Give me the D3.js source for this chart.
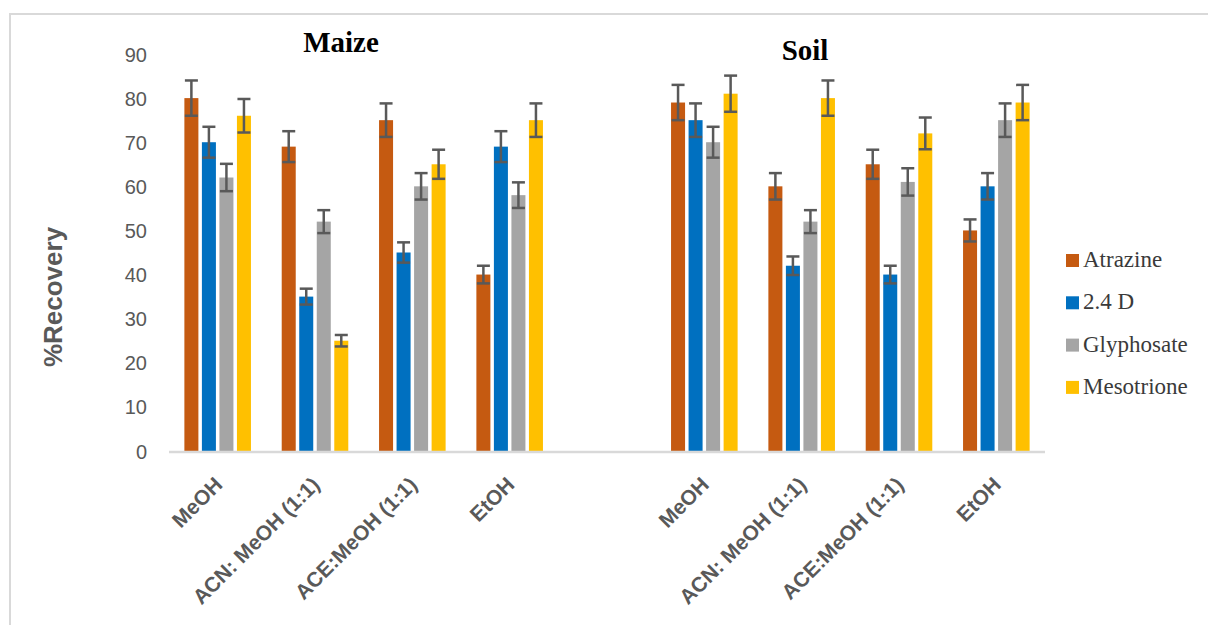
<!DOCTYPE html>
<html>
<head>
<meta charset="utf-8">
<script src="https://cdn.jsdelivr.net/npm/d3@7.9.0/dist/d3.min.js"></script>
<style>
  body { margin: 0; background: #fff; }
  svg { display: block; }
</style>
</head>
<body>
<svg id="chart" width="1208" height="625"></svg>
<script>
// chart data
const categories = ['MeOH', 'ACN: MeOH (1:1)', 'ACE:MeOH (1:1)', 'EtOH', '',
                    'MeOH', 'ACN: MeOH (1:1)', 'ACE:MeOH (1:1)', 'EtOH'];
const seriesNames = ['Atrazine', '2.4 D', 'Glyphosate', 'Mesotrione'];
const seriesColors = ['#C55A11', '#0070C0', '#A5A5A5', '#FFC000'];

const atrazine   = [80, 69, 75, 40, null, 79, 60, 65, 50];
const d24        = [70, 35, 45, 69, null, 75, 42, 40, 60];
const glyphosate = [62, 52, 60, 58, null, 70, 52, 61, 75];
const mesotrione = [76, 25, 65, 75, null, 81, 80, 72, 79];

const atrazineErr   = [4.0, 3.5, 3.8, 2.0, null, 4.0, 3.0, 3.3, 2.5];
const d24Err        = [3.5, 1.8, 2.3, 3.5, null, 3.8, 2.1, 2.0, 3.0];
const glyphosateErr = [3.1, 2.6, 3.0, 2.9, null, 3.5, 2.6, 3.1, 3.8];
const mesotrioneErr = [3.8, 1.3, 3.3, 3.8, null, 4.1, 4.0, 3.6, 4.0];

const yTicks = [0, 10, 20, 30, 40, 50, 60, 70, 80, 90];
const groupTitles = ['Maize', 'Soil'];

const values = [atrazine, d24, glyphosate, mesotrione];
const errors = [atrazineErr, d24Err, glyphosateErr, mesotrioneErr];

const svg = d3.select('#chart');

// outer frame (only top/left edges show in the picture)
svg.append('rect')
  .attr('x', 10).attr('y', 14)
  .attr('width', 1250).attr('height', 700)
  .attr('fill', 'none')
  .attr('stroke', '#D9D9D9').attr('stroke-width', 2);

const plot = { left: 169, right: 1045, top: 54, bottom: 451 };

const x0 = d3.scaleBand()
  .domain(d3.range(categories.length))
  .range([plot.left, plot.right])
  .padding(0);

const x1 = d3.scaleBand()
  .domain(seriesNames)
  .range([0, x0.bandwidth() * 0.684])
  .paddingInner(0.2)
  .paddingOuter(0);

const y = d3.scaleLinear().domain([0, 90]).range([plot.bottom, plot.top]);

// y tick labels
const yAxis = d3.axisLeft(y).tickValues(yTicks).tickSize(0).tickPadding(0);
const gy = svg.append('g')
  .attr('transform', `translate(147,0)`)
  .call(yAxis);
gy.select('.domain').remove();
gy.selectAll('text')
  .attr('fill', '#595959')
  .style('font-family', '"Liberation Sans", Arial, sans-serif')
  .style('font-size', '20px')
  .attr('dy', '0.35em');

// y title
svg.append('text')
  .attr('transform', 'translate(62,297) rotate(-90)')
  .attr('text-anchor', 'middle')
  .attr('fill', '#595959')
  .style('font-family', '"Liberation Sans", Arial, sans-serif')
  .style('font-weight', 'bold')
  .style('font-size', '26px')
  .text('%Recovery');

// bars
const groupOffset = (x0.bandwidth() - x1.range()[1]) / 2;
const groups = svg.append('g').selectAll('g')
  .data(categories.map((c, i) => i).filter(i => atrazine[i] != null))
  .join('g')
  .attr('transform', i => `translate(${x0(i) + groupOffset},0)`);

groups.selectAll('rect')
  .data(i => seriesNames.map((s, k) => ({ s, k, v: values[k][i] })))
  .join('rect')
  .attr('x', d => x1(d.s))
  .attr('y', d => y(d.v))
  .attr('width', x1.bandwidth())
  .attr('height', d => y(0) - y(d.v))
  .attr('fill', d => seriesColors[d.k]);

// error bars
const capW = 6.5;
const eb = groups.selectAll('g.err')
  .data(i => seriesNames.map((s, k) => ({ s, k, v: values[k][i], e: errors[k][i] })))
  .join('g')
  .attr('class', 'err')
  .attr('stroke', '#595959')
  .attr('stroke-width', 2.5);
eb.append('line')
  .attr('x1', d => x1(d.s) + x1.bandwidth() / 2)
  .attr('x2', d => x1(d.s) + x1.bandwidth() / 2)
  .attr('y1', d => y(d.v + d.e))
  .attr('y2', d => y(d.v - d.e));
eb.append('line')
  .attr('x1', d => x1(d.s) + x1.bandwidth() / 2 - capW)
  .attr('x2', d => x1(d.s) + x1.bandwidth() / 2 + capW)
  .attr('y1', d => y(d.v + d.e))
  .attr('y2', d => y(d.v + d.e));
eb.append('line')
  .attr('x1', d => x1(d.s) + x1.bandwidth() / 2 - capW)
  .attr('x2', d => x1(d.s) + x1.bandwidth() / 2 + capW)
  .attr('y1', d => y(d.v - d.e))
  .attr('y2', d => y(d.v - d.e));

// x axis line
svg.append('line')
  .attr('x1', plot.left).attr('x2', plot.right)
  .attr('y1', y(0) + 1).attr('y2', y(0) + 1)
  .attr('stroke', '#D9D9D9').attr('stroke-width', 2.5);

// x labels, rotated
svg.append('g').selectAll('text')
  .data(categories.map((c, i) => ({ c, i })).filter(d => d.c !== ''))
  .join('text')
  .attr('transform', d => `translate(${x0(d.i) + x0.bandwidth() / 2 + 6},486) rotate(-45)`)
  .attr('text-anchor', 'end')
  .attr('fill', '#595959')
  .style('font-family', '"Liberation Sans", Arial, sans-serif')
  .style('font-weight', 'bold')
  .style('font-size', '21px')
  .text(d => d.c);

// group titles
svg.append('g').selectAll('text')
  .data(groupTitles)
  .join('text')
  .attr('x', (d, i) => i === 0 ? 341 : 805)
  .attr('y', (d, i) => i === 0 ? 52 : 60)
  .attr('text-anchor', 'middle')
  .attr('fill', '#000')
  .style('font-family', '"Liberation Serif", "Times New Roman", serif')
  .style('font-weight', 'bold')
  .style('font-size', '29px')
  .text(d => d);

// legend
const legend = svg.append('g').attr('transform', 'translate(1066,254)');
const items = legend.selectAll('g')
  .data(seriesNames)
  .join('g')
  .attr('transform', (d, i) => `translate(0,${i * 42.3})`);
items.append('rect')
  .attr('width', 13).attr('height', 13)
  .attr('fill', (d, i) => seriesColors[i]);
items.append('text')
  .attr('x', 17).attr('y', 13)
  .attr('fill', '#3A3A3A')
  .style('font-family', '"Liberation Serif", "Times New Roman", serif')
  .style('font-size', '23px')
  .text(d => d);
</script>
</body>
</html>
